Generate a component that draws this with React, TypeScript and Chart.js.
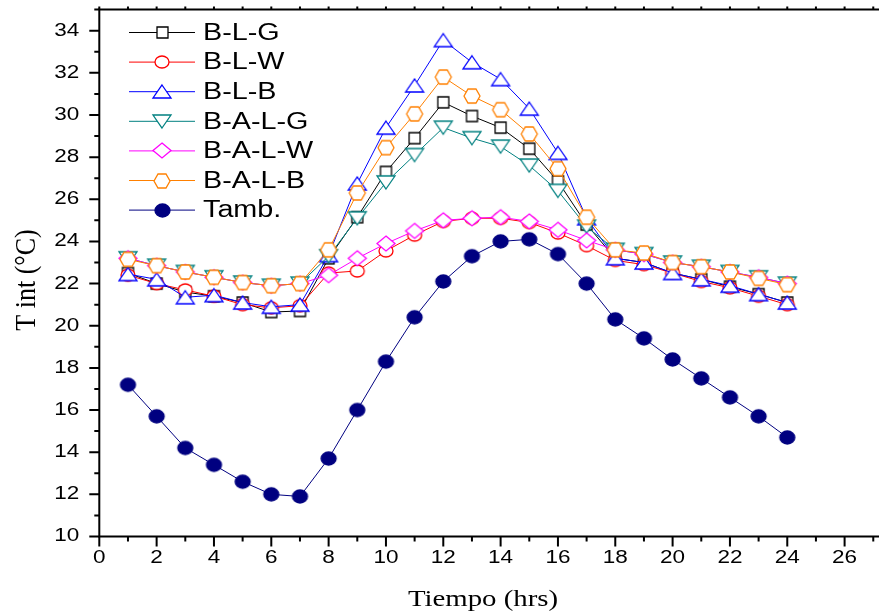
import React, { useEffect, useRef } from 'react';
import { Chart, registerables } from 'chart.js';

Chart.register(...registerables);

// ---------- data ----------
const hours = [1, 2, 3, 4, 5, 6, 7, 8, 9, 10, 11, 12, 13, 14, 15, 16, 17, 18, 19, 20, 21, 22, 23, 24];
const seriesNames = ['B-L-G', 'B-L-W', 'B-L-B', 'B-A-L-G', 'B-A-L-W', 'B-A-L-B', 'Tamb.'];
const blg = [22.5, 22.0, 21.6, 21.4, 21.1, 20.65, 20.7, 23.2, 25.15, 27.3, 28.9, 30.6, 29.95, 29.4, 28.4, 26.85, 24.8, 23.2, 23.0, 22.5, 22.2, 21.85, 21.5, 21.1];
const blw = [22.4, 22.0, 21.7, 21.4, 21.0, 20.85, 20.95, 22.5, 22.6, 23.55, 24.3, 24.95, 25.1, 25.1, 24.9, 24.4, 23.8, 23.1, 22.9, 22.5, 22.1, 21.8, 21.4, 21.0];
const blb = [22.45, 22.2, 21.35, 21.45, 21.1, 20.9, 21.0, 23.35, 26.75, 29.4, 31.4, 33.55, 32.5, 31.7, 30.3, 28.2, 25.1, 23.2, 23.0, 22.5, 22.2, 21.9, 21.5, 21.1];
const balg = [23.2, 22.85, 22.55, 22.3, 22.05, 21.9, 22.0, 23.3, 25.1, 26.8, 28.1, 29.4, 28.9, 28.5, 27.6, 26.4, 24.7, 23.6, 23.4, 23.0, 22.8, 22.55, 22.3, 22.0];
const balw = [23.2, 22.85, 22.55, 22.3, 22.05, 21.9, 22.0, 22.4, 23.2, 23.9, 24.5, 25.0, 25.1, 25.15, 24.95, 24.55, 24.05, 23.6, 23.4, 23.0, 22.8, 22.55, 22.3, 22.0];
const balb = [23.15, 22.85, 22.55, 22.3, 22.05, 21.9, 22.0, 23.6, 26.3, 28.45, 30.05, 31.8, 30.9, 30.25, 29.1, 27.45, 25.15, 23.6, 23.45, 23.0, 22.8, 22.55, 22.25, 21.95];
const tamb = [17.2, 15.7, 14.2, 13.4, 12.6, 12.0, 11.9, 13.7, 16.0, 18.3, 20.4, 22.1, 23.3, 24.0, 24.1, 23.4, 22.0, 20.3, 19.4, 18.4, 17.5, 16.6, 15.7, 14.7];
const xTickLabels = [0, 2, 4, 6, 8, 10, 12, 14, 16, 18, 20, 22, 24, 26];
const yTickLabels = [10, 12, 14, 16, 18, 20, 22, 24, 26, 28, 30, 32, 34];
const xTitle = 'Tiempo (hrs)';
const yTitle = 'T int (°C)';

// ---------- styles ----------
const colors = ['#000000', '#FF0000', '#0000FF', '#008080', '#FF00FF', '#FF8000', '#000080'];
const shapes = ['square', 'circle', 'triangle', 'invtriangle', 'diamond', 'hexagon', 'dot'];
const sizes: [number, number][] = [[11, 11], [14, 12], [18, 13], [18, 13], [18, 15], [16, 14], [15, 13]];
const STRETCH = 1.25;

function makeMarker(shape: string, w: number, h: number, stroke: string) {
  const pad = 2;
  const c = document.createElement('canvas');
  c.width = Math.ceil(w + pad * 2);
  c.height = Math.ceil(h + pad * 2);
  const ctx = c.getContext('2d')!;
  const cx = c.width / 2, cy = c.height / 2, rx = w / 2, ry = h / 2;
  ctx.beginPath();
  switch (shape) {
    case 'square':
      ctx.rect(cx - rx, cy - ry, w, h);
      break;
    case 'circle':
    case 'dot':
      ctx.ellipse(cx, cy, rx, ry, 0, 0, Math.PI * 2);
      break;
    case 'triangle':
      ctx.moveTo(cx, cy - ry);
      ctx.lineTo(cx + rx, cy + ry);
      ctx.lineTo(cx - rx, cy + ry);
      ctx.closePath();
      break;
    case 'invtriangle':
      ctx.moveTo(cx, cy + ry);
      ctx.lineTo(cx + rx, cy - ry);
      ctx.lineTo(cx - rx, cy - ry);
      ctx.closePath();
      break;
    case 'diamond':
      ctx.moveTo(cx, cy - ry);
      ctx.lineTo(cx + rx, cy);
      ctx.lineTo(cx, cy + ry);
      ctx.lineTo(cx - rx, cy);
      ctx.closePath();
      break;
    case 'hexagon':
      ctx.moveTo(cx - rx, cy);
      ctx.lineTo(cx - rx / 2, cy - ry);
      ctx.lineTo(cx + rx / 2, cy - ry);
      ctx.lineTo(cx + rx, cy);
      ctx.lineTo(cx + rx / 2, cy + ry);
      ctx.lineTo(cx - rx / 2, cy + ry);
      ctx.closePath();
      break;
  }
  ctx.fillStyle = shape === 'dot' ? stroke : '#ffffff';
  ctx.fill();
  ctx.lineWidth = 1.3;
  ctx.strokeStyle = stroke;
  ctx.stroke();
  return c;
}

function stretchedText(ctx: CanvasRenderingContext2D, text: string, x: number, y: number, align: CanvasTextAlign, sx: number) {
  ctx.save();
  ctx.translate(x, y);
  ctx.scale(sx, 1);
  ctx.textAlign = align;
  ctx.fillText(text, 0, 0);
  ctx.restore();
}

export default function App() {
  const ref = useRef<HTMLCanvasElement>(null);

  useEffect(() => {
    document.body.style.margin = '0';
    document.documentElement.style.overflow = 'hidden';
    const canvas = ref.current!;
    const allSeries = [blg, blw, blb, balg, balw, balb, tamb];
    const markers = shapes.map((s, i) => makeMarker(s, sizes[i][0], sizes[i][1], colors[i]));

    const decor = {
      id: 'decor',
      afterDraw(chart: any) {
        const { ctx, chartArea: a, scales } = chart;
        const x = scales.x, y = scales.y;
        ctx.save();
        ctx.strokeStyle = '#000';
        ctx.lineWidth = 2;
        ctx.beginPath();
        ctx.moveTo(a.left, a.top - 1);
        ctx.lineTo(a.left, a.bottom + 1);
        ctx.moveTo(a.left - 1, a.bottom);
        ctx.lineTo(a.right, a.bottom);
        ctx.moveTo(a.left - 1, a.top);
        ctx.lineTo(a.right, a.top);
        ctx.stroke();
        // x ticks
        ctx.beginPath();
        for (let v = 0; v <= Math.floor(x.max); v++) {
          const px = x.getPixelForValue(v);
          const len = v % 2 === 0 ? 10 : 5;
          ctx.moveTo(px, a.bottom);
          ctx.lineTo(px, a.bottom + len);
          ctx.moveTo(px, a.top);
          ctx.lineTo(px, a.top - 3);
        }
        // y ticks
        for (let v = Math.ceil(y.min); v <= Math.floor(y.max); v++) {
          const py = y.getPixelForValue(v);
          const len = v % 2 === 0 ? 10 : 5;
          ctx.moveTo(a.left, py);
          ctx.lineTo(a.left - len, py);
        }
        ctx.stroke();

        // tick labels
        ctx.fillStyle = '#000';
        ctx.font = '18px "Liberation Sans", Arial, sans-serif';
        ctx.textBaseline = 'middle';
        xTickLabels.forEach((v) => {
          stretchedText(ctx, String(v), x.getPixelForValue(v), a.bottom + 22, 'center', STRETCH);
        });
        yTickLabels.forEach((v) => {
          stretchedText(ctx, String(v), a.left - 20, y.getPixelForValue(v), 'right', STRETCH);
        });

        // axis titles
        ctx.font = '24px "Liberation Serif", "Times New Roman", serif';
        stretchedText(ctx, xTitle, 483, 600, 'center', 1.2);
        ctx.save();
        ctx.font = '26px "Liberation Serif", "Times New Roman", serif';
        ctx.translate(27, 280);
        ctx.rotate(-Math.PI / 2);
        ctx.scale(1, 1.15);
        ctx.textAlign = 'center';
        ctx.textBaseline = 'middle';
        ctx.fillText(yTitle, 0, 0);
        ctx.restore();

        // legend
        const rowY0 = 32.5, rowStep = 29.6;
        chart.data.datasets.forEach((ds: any, i: number) => {
          const ry = rowY0 + i * rowStep;
          ctx.beginPath();
          ctx.lineWidth = 1;
          ctx.strokeStyle = colors[i];
          ctx.moveTo(129, ry);
          ctx.lineTo(195, ry);
          ctx.stroke();
          const m = markers[i];
          ctx.drawImage(m, Math.round(162 - m.width / 2), Math.round(ry - m.height / 2));
          ctx.fillStyle = '#000';
          ctx.font = '23px "Liberation Sans", Arial, sans-serif';
          ctx.textBaseline = 'middle';
          stretchedText(ctx, ds.label, 203, ry + 1, 'left', STRETCH);
        });
        ctx.restore();
      },
    };

    const datasets = seriesNames.map((name, i) => ({
      label: name,
      data: hours.map((h, k) => ({ x: h, y: allSeries[i][k] })),
      borderColor: colors[i],
      backgroundColor: colors[i],
      borderWidth: 1,
      pointStyle: markers[i],
      pointRadius: 7,
      pointHoverRadius: 7,
      tension: 0,
      order: seriesNames.length - i,
      clip: false as any,
    }));

    const chart = new Chart(canvas, {
      type: 'line',
      data: { datasets },
      options: {
        responsive: false,
        animation: false,
        events: [],
        layout: { autoPadding: false, padding: { top: 9.6, right: 0, left: 0, bottom: 0 } },
        plugins: { legend: { display: false }, tooltip: { enabled: false } },
        scales: {
          x: {
            type: 'linear',
            min: 0,
            max: 27.2,
            grid: { display: false },
            border: { display: false },
            ticks: { display: false },
            afterFit: (s: any) => { s.height = 79.5; },
          },
          y: {
            type: 'linear',
            min: 10,
            max: 35,
            grid: { display: false },
            border: { display: false },
            ticks: { display: false },
            afterFit: (s: any) => { s.width = 99.3; },
          },
        },
      },
      plugins: [decor],
    });
    return () => chart.destroy();
  }, []);

  return <canvas ref={ref} width={879} height={616} style={{ display: 'block', width: 879, height: 616 }} />;
}
